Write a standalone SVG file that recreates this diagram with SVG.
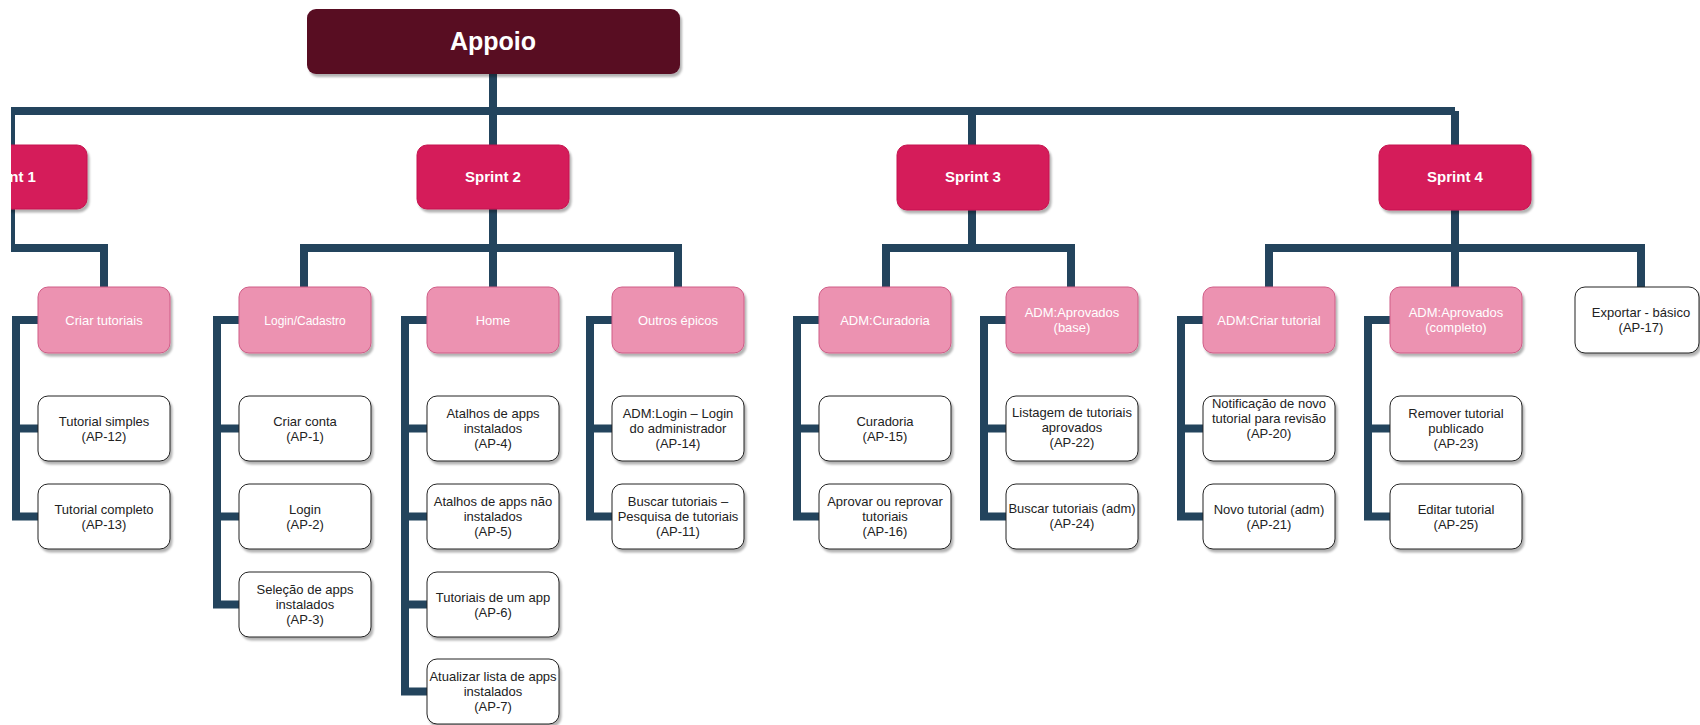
<svg xmlns="http://www.w3.org/2000/svg" width="1700" height="725" viewBox="0 0 1700 725">
<defs>
<filter id="sh" x="-10%" y="-10%" width="130%" height="150%"><feDropShadow dx="2" dy="3" stdDeviation="1.2" flood-color="#000" flood-opacity="0.3"/></filter>
<clipPath id="cp"><rect x="11" y="0" width="1689" height="725"/></clipPath>
<style>
text{font-family:"Liberation Sans",Arial,Helvetica,sans-serif;text-anchor:middle}
.root{fill:#580a24;filter:url(#sh)}
.sprint{fill:#d51a5a;stroke:#c5164f;stroke-width:1;filter:url(#sh)}
.epic{fill:#ec92b1;stroke:#cf5c86;stroke-width:1;filter:url(#sh)}
.leaf{fill:#fff;stroke:#222;stroke-width:1;filter:url(#sh)}
.tr{fill:#fff;font-weight:bold;font-size:25px}
.ts{fill:#fff;font-weight:bold;font-size:15px}
.te{fill:#fff;font-size:13px}
.tl{fill:#222;font-size:13px}
.c{fill:none;stroke:#23445d;stroke-width:8;stroke-linejoin:miter;stroke-linecap:butt}
</style>
</defs>
<rect width="1700" height="725" fill="#fff"/>
<g clip-path="url(#cp)">
<g id="connectors">
<path class="c" d="M493 74V111M11 111H1455M11 111V145M493 111V145M972 111V145M1455 111V145"/>
<path class="c" d="M11 209V248H104V287"/>
<path class="c" d="M493 209V287M304 287V248H678V287"/>
<path class="c" d="M972 210V248M886 287V248H1071V287"/>
<path class="c" d="M1455 210V287M1269 287V248H1641V287"/>
<path class="c" d="M38 320H16V516.5H38M16 428.5H38"/>
<path class="c" d="M239 320H217V604.5H239M217 428.5H239M217 516.5H239"/>
<path class="c" d="M427 320H405V691.5H427M405 428.5H427M405 516.5H427M405 604.5H427"/>
<path class="c" d="M612 320H590V516.5H612M590 428.5H612"/>
<path class="c" d="M819 320H797V516.5H819M797 428.5H819"/>
<path class="c" d="M1006 320H984V516.5H1006M984 428.5H1006"/>
<path class="c" d="M1203 320H1181V516.5H1203M1181 428.5H1203"/>
<path class="c" d="M1390 320H1368V516.5H1390M1368 428.5H1390"/>
</g>
<g id="appoio"><rect class="root" x="307" y="9" width="373" height="65" rx="9"/><text class="tr" x="493" y="50">Appoio</text></g>
<g id="sprint1"><rect class="sprint" x="-65" y="145" width="152" height="64" rx="10"/><text class="ts" x="8" y="182">Sprint 1</text></g>
<g id="sprint2"><rect class="sprint" x="417" y="145" width="152" height="64" rx="10"/><text class="ts" x="493" y="182">Sprint 2</text></g>
<g id="sprint3"><rect class="sprint" x="897" y="145" width="152" height="65" rx="10"/><text class="ts" x="973" y="182">Sprint 3</text></g>
<g id="sprint4"><rect class="sprint" x="1379" y="145" width="152" height="65" rx="10"/><text class="ts" x="1455" y="182">Sprint 4</text></g>

<g id="criar-tutoriais"><rect class="epic" x="38" y="287" width="132" height="66" rx="10"/><text class="te" x="104" y="324.5">Criar tutoriais</text></g>
<g id="login-cadastro"><rect class="epic" x="239" y="287" width="132" height="66" rx="10"/><text class="te" x="305" y="324.5" style="font-size:12px">Login/Cadastro</text></g>
<g id="home"><rect class="epic" x="427" y="287" width="132" height="66" rx="10"/><text class="te" x="493" y="324.5">Home</text></g>
<g id="outros-epicos"><rect class="epic" x="612" y="287" width="132" height="66" rx="10"/><text class="te" x="678" y="324.5">Outros épicos</text></g>
<g id="adm-curadoria"><rect class="epic" x="819" y="287" width="132" height="66" rx="10"/><text class="te" x="885" y="324.5">ADM:Curadoria</text></g>
<g id="adm-aprovados-base"><rect class="epic" x="1006" y="287" width="132" height="66" rx="10"/><text class="te"><tspan x="1072" y="317">ADM:Aprovados</tspan><tspan x="1072" y="332">(base)</tspan></text></g>
<g id="adm-criar-tutorial"><rect class="epic" x="1203" y="287" width="132" height="66" rx="10"/><text class="te" x="1269" y="324.5">ADM:Criar tutorial</text></g>
<g id="adm-aprovados-completo"><rect class="epic" x="1390" y="287" width="132" height="66" rx="10"/><text class="te"><tspan x="1456" y="317">ADM:Aprovados</tspan><tspan x="1456" y="332">(completo)</tspan></text></g>
<g id="ap17"><rect class="leaf" x="1575" y="287" width="124" height="66" rx="10"/><text class="tl"><tspan x="1641" y="317">Exportar - básico</tspan><tspan x="1641" y="332">(AP-17)</tspan></text></g>

<g id="ap12"><rect class="leaf" x="38" y="396" width="132" height="65" rx="10"/><text class="tl"><tspan x="104" y="426">Tutorial simples</tspan><tspan x="104" y="441">(AP-12)</tspan></text></g>
<g id="ap13"><rect class="leaf" x="38" y="484" width="132" height="65" rx="10"/><text class="tl"><tspan x="104" y="514">Tutorial completo</tspan><tspan x="104" y="529">(AP-13)</tspan></text></g>

<g id="ap1"><rect class="leaf" x="239" y="396" width="132" height="65" rx="10"/><text class="tl"><tspan x="305" y="426">Criar conta</tspan><tspan x="305" y="441">(AP-1)</tspan></text></g>
<g id="ap2"><rect class="leaf" x="239" y="484" width="132" height="65" rx="10"/><text class="tl"><tspan x="305" y="514">Login</tspan><tspan x="305" y="529">(AP-2)</tspan></text></g>
<g id="ap3"><rect class="leaf" x="239" y="572" width="132" height="65" rx="10"/><text class="tl"><tspan x="305" y="594">Seleção de apps</tspan><tspan x="305" y="609">instalados</tspan><tspan x="305" y="624">(AP-3)</tspan></text></g>

<g id="ap4"><rect class="leaf" x="427" y="396" width="132" height="65" rx="10"/><text class="tl"><tspan x="493" y="418">Atalhos de apps</tspan><tspan x="493" y="433">instalados</tspan><tspan x="493" y="448">(AP-4)</tspan></text></g>
<g id="ap5"><rect class="leaf" x="427" y="484" width="132" height="65" rx="10"/><text class="tl"><tspan x="493" y="506">Atalhos de apps não</tspan><tspan x="493" y="521">instalados</tspan><tspan x="493" y="536">(AP-5)</tspan></text></g>
<g id="ap6"><rect class="leaf" x="427" y="572" width="132" height="65" rx="10"/><text class="tl"><tspan x="493" y="602">Tutoriais de um app</tspan><tspan x="493" y="617">(AP-6)</tspan></text></g>
<g id="ap7"><rect class="leaf" x="427" y="659" width="132" height="65" rx="10"/><text class="tl"><tspan x="493" y="681">Atualizar lista de apps</tspan><tspan x="493" y="696">instalados</tspan><tspan x="493" y="711">(AP-7)</tspan></text></g>

<g id="ap14"><rect class="leaf" x="612" y="396" width="132" height="65" rx="10"/><text class="tl"><tspan x="678" y="418">ADM:Login – Login</tspan><tspan x="678" y="433">do administrador</tspan><tspan x="678" y="448">(AP-14)</tspan></text></g>
<g id="ap11"><rect class="leaf" x="612" y="484" width="132" height="65" rx="10"/><text class="tl"><tspan x="678" y="506">Buscar tutoriais –</tspan><tspan x="678" y="521">Pesquisa de tutoriais</tspan><tspan x="678" y="536">(AP-11)</tspan></text></g>

<g id="ap15"><rect class="leaf" x="819" y="396" width="132" height="65" rx="10"/><text class="tl"><tspan x="885" y="426">Curadoria</tspan><tspan x="885" y="441">(AP-15)</tspan></text></g>
<g id="ap16"><rect class="leaf" x="819" y="484" width="132" height="65" rx="10"/><text class="tl"><tspan x="885" y="506">Aprovar ou reprovar</tspan><tspan x="885" y="521">tutoriais</tspan><tspan x="885" y="536">(AP-16)</tspan></text></g>

<g id="ap22"><rect class="leaf" x="1006" y="396" width="132" height="65" rx="10"/><text class="tl"><tspan x="1072" y="417">Listagem de tutoriais</tspan><tspan x="1072" y="432">aprovados</tspan><tspan x="1072" y="447">(AP-22)</tspan></text></g>
<g id="ap24"><rect class="leaf" x="1006" y="484" width="132" height="65" rx="10"/><text class="tl"><tspan x="1072" y="513">Buscar tutoriais (adm)</tspan><tspan x="1072" y="528">(AP-24)</tspan></text></g>

<g id="ap20"><rect class="leaf" x="1203" y="396" width="132" height="65" rx="10"/><text class="tl"><tspan x="1269" y="408">Notificação de novo</tspan><tspan x="1269" y="423">tutorial para revisão</tspan><tspan x="1269" y="438">(AP-20)</tspan></text></g>
<g id="ap21"><rect class="leaf" x="1203" y="484" width="132" height="65" rx="10"/><text class="tl"><tspan x="1269" y="514">Novo tutorial (adm)</tspan><tspan x="1269" y="529">(AP-21)</tspan></text></g>

<g id="ap23"><rect class="leaf" x="1390" y="396" width="132" height="65" rx="10"/><text class="tl"><tspan x="1456" y="418">Remover tutorial</tspan><tspan x="1456" y="433">publicado</tspan><tspan x="1456" y="448">(AP-23)</tspan></text></g>
<g id="ap25"><rect class="leaf" x="1390" y="484" width="132" height="65" rx="10"/><text class="tl"><tspan x="1456" y="514">Editar tutorial</tspan><tspan x="1456" y="529">(AP-25)</tspan></text></g>
</g>
</svg>
